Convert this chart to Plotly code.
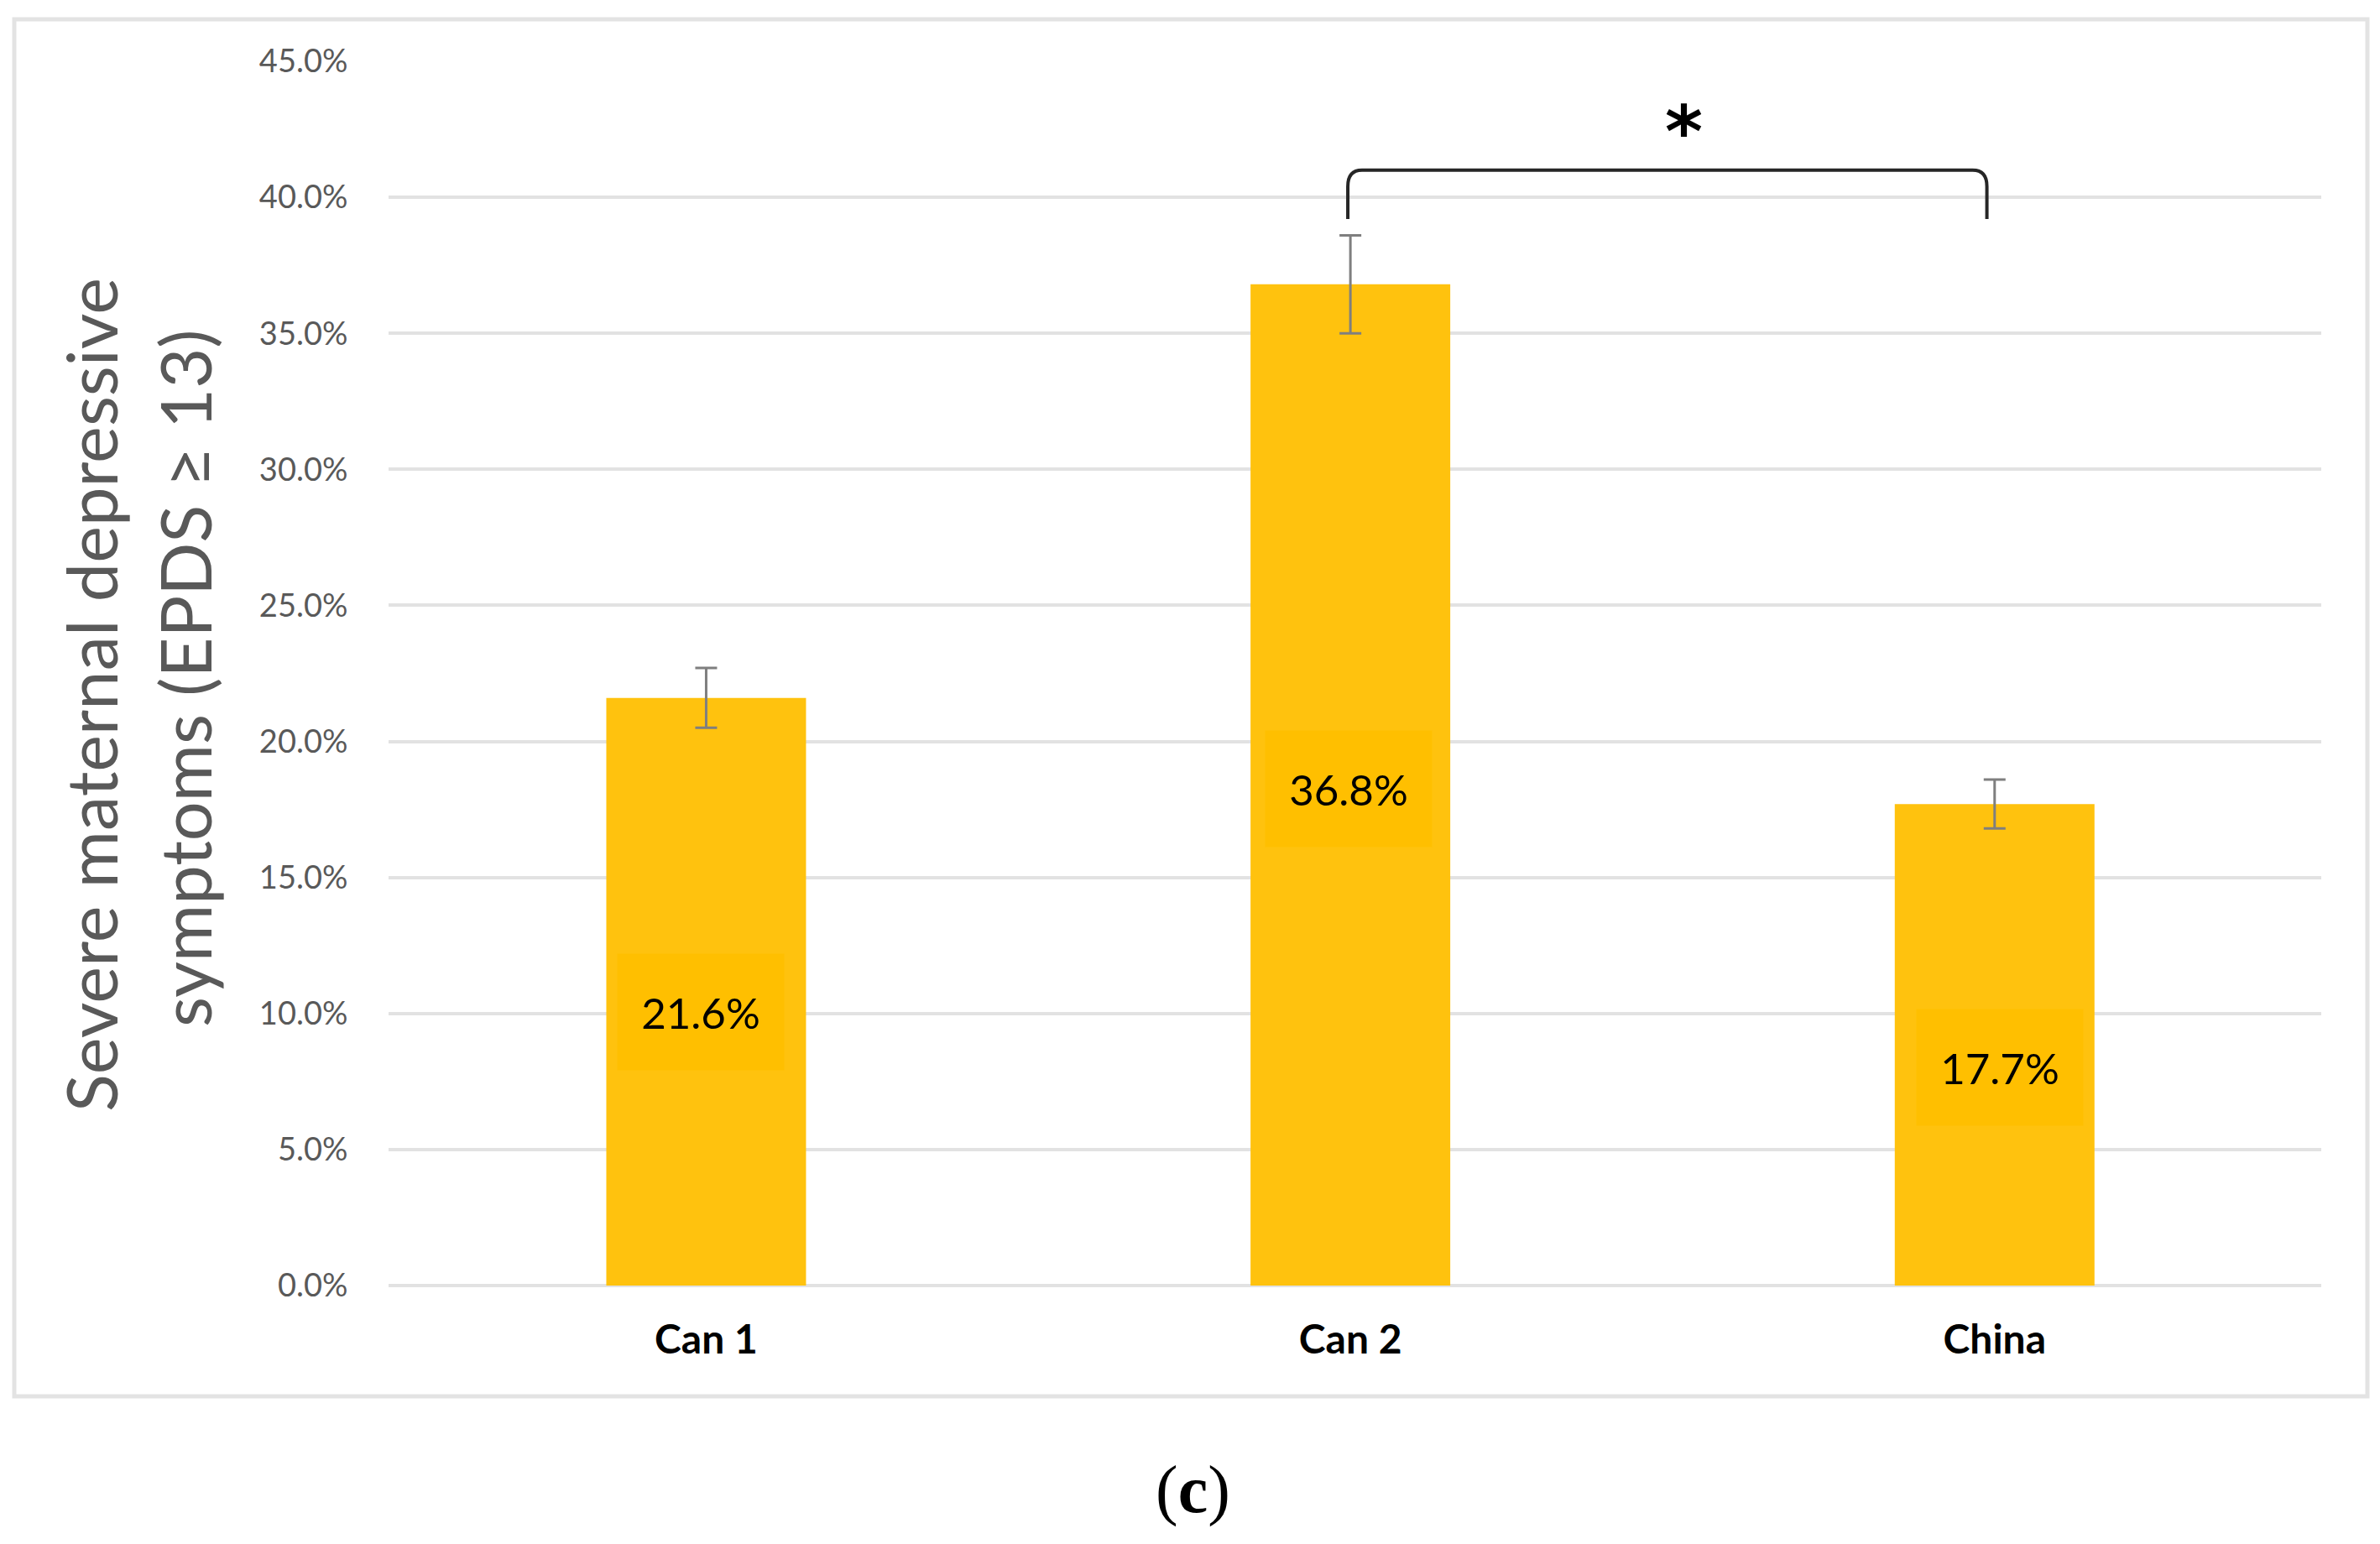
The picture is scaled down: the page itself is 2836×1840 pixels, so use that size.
import plotly.graph_objects as go

# ---------------- data ----------------
categories = ["Can 1", "Can 2", "China"]
values = [21.6, 36.8, 17.7]          # % with severe symptoms
errors = [1.1, 1.8, 0.9]             # error bar half-length (%)
value_labels = ["21.6%", "36.8%", "17.7%"]
y_ticks = [0, 5, 10, 15, 20, 25, 30, 35, 40, 45]
y_tick_labels = [f"{v:.1f}%" for v in y_ticks]
sig_pair = ("Can 2", "China")
sig_text = "*"
y_title_lines = ["Severe maternal depressive", "symptoms (EPDS \u2265 13)"]
caption = "(<b>c</b>)"

# ---------------- style ----------------
W, H = 2836, 1840
L, R, T, B = 455, 78, 65, 316
BAR_COLOR = "#FFC20E"
LABEL_BG = "#FFBF00"
GRID = "#E2E2E2"
TICK_GRAY = "#595959"
FONT = "Lato"
label_yshift = [-24, -5, -27]
label_xshift = [-6, -2, 6]

pw = W - L - R
ph = H - T - B


def px_to_paper_x(px):
    return (px - L) / pw


def px_to_paper_y(py):
    return (H - B - py) / ph


xs = list(range(len(categories)))

fig = go.Figure()
fig.add_trace(go.Bar(
    x=xs, y=values, width=0.31,
    marker=dict(color=BAR_COLOR, line=dict(width=0)),
    error_y=dict(type="data", array=errors, visible=True,
                 color="#7F7F7F", thickness=3, width=13),
    hoverinfo="skip", showlegend=False,
))

annotations = []
# value labels with background boxes
for i, (v, lab) in enumerate(zip(values, value_labels)):
    annotations.append(dict(
        x=xs[i], y=v / 2, xref="x", yref="y", text=lab, showarrow=False,
        font=dict(family=FONT, size=51, color="#000000"),
        bgcolor=LABEL_BG, width=192, height=132, borderpad=3,
        xanchor="center", yanchor="middle",
        yshift=label_yshift[i], xshift=label_xshift[i],
    ))

# significance bracket
i0 = categories.index(sig_pair[0])
i1 = categories.index(sig_pair[1])
top_err = max(values[i] + errors[i] for i in (i0, i1))
yb = top_err + 0.6
yt = yb + 1.8
x0 = xs[i0] - 0.004
x1 = xs[i1] - 0.012
rx, ry = 0.022, 0.6
path = (f"M {x0},{yb} L {x0},{yt - ry} Q {x0},{yt} {x0 + rx},{yt} "
        f"L {x1 - rx},{yt} Q {x1},{yt} {x1},{yt - ry} L {x1},{yb}")
fig.add_shape(type="path", path=path, xref="x", yref="y",
              line=dict(color="#262626", width=4))
annotations.append(dict(
    x=(x0 + x1) / 2 + 0.025, y=yt + 1.4, xref="x", yref="y", text=f"<b>{sig_text}</b>",
    showarrow=False, font=dict(family="DejaVu Sans", size=86, color="#000000"),
    xanchor="center", yanchor="middle",
))

# y-axis title (two lines, rotated)
title_px = [(100, 820), (212, 800)]
for (tx, ty), line in zip(title_px, y_title_lines):
    annotations.append(dict(
        x=px_to_paper_x(tx), y=px_to_paper_y(ty), xref="paper", yref="paper",
        text=line, textangle=-90, showarrow=False,
        font=dict(family=FONT, size=83, color=TICK_GRAY),
        xanchor="center", yanchor="middle",
    ))

# caption
annotations.append(dict(
    x=px_to_paper_x(1413), y=px_to_paper_y(1768), xref="paper", yref="paper",
    text=caption, showarrow=False,
    font=dict(family="Liberation Serif", size=80, color="#000000"),
    xanchor="center", yanchor="middle",
))

# outer chart border
fig.add_shape(type="rect", xref="paper", yref="paper",
              x0=px_to_paper_x(9), x1=px_to_paper_x(2813),
              y0=px_to_paper_y(1656), y1=px_to_paper_y(15),
              line=dict(color="#E3E3E3", width=5), layer="below")

fig.update_layout(
    width=W, height=H,
    margin=dict(l=L, r=R, t=T, b=B, pad=0),
    paper_bgcolor="white", plot_bgcolor="white",
    annotations=annotations,
    bargap=0.69,
    xaxis=dict(
        range=[-0.493, 2.507], tickmode="array", tickvals=xs, ticktext=categories,
        showgrid=False, zeroline=False, showline=False,
        ticks="outside", ticklen=22, tickcolor="rgba(0,0,0,0)",
        tickfont=dict(family=FONT, size=48, color="#000000", weight="bold"),
    ),
    yaxis=dict(
        range=[0, 45], tickmode="array", tickvals=y_ticks, ticktext=y_tick_labels,
        showgrid=True, gridcolor=GRID, gridwidth=4,
        zeroline=True, zerolinecolor=GRID, zerolinewidth=4,
        showline=False,
        ticks="outside", ticklen=40, tickcolor="rgba(0,0,0,0)",
        tickfont=dict(family=FONT, size=38, color=TICK_GRAY),
    ),
)

fig.write_html("out.html")
